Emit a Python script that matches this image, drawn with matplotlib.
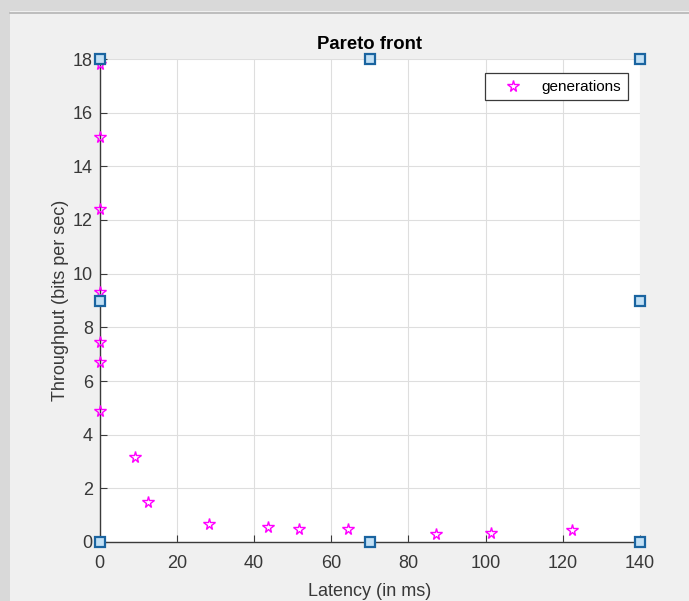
"""
pareto.py
---------
Pareto front of latency vs throughput (MATLAB-style figure).
"""

import matplotlib
matplotlib.use('Agg')
import matplotlib.pyplot as plt
from matplotlib.patches import Rectangle
from matplotlib.lines import Line2D

# Generations (pentagram markers)
gen_latency = [0, 0, 0, 0, 0, 0, 0, 9.2, 12.6, 28.2, 43.6, 51.7, 64.4, 87.2, 101.5, 122.5]
gen_throughput = [17.8, 15.1, 12.4, 9.3, 7.45, 6.7, 4.9, 3.15, 1.5, 0.68, 0.57,
                  0.5, 0.47, 0.3, 0.34, 0.45]

# Corner / bound markers (squares)
bound_latency = [0, 0, 0, 70, 70, 140, 140, 140]
bound_throughput = [0, 9, 18, 0, 18, 0, 9, 18]

xticks = list(range(0, 141, 20))
yticks = list(range(0, 19, 2))

plt.rcParams['font.family'] = ['Liberation Sans', 'DejaVu Sans']

fig = plt.figure(figsize=(6.89, 6.01), dpi=100)
fig.patch.set_facecolor('#f0f0f0')

# window frame strips (screenshot border)
fig.add_artist(Rectangle((0, 1 - 11 / 601), 1, 11 / 601, transform=fig.transFigure,
                         facecolor='#d9d9d9', edgecolor='none', zorder=0))
fig.add_artist(Rectangle((0, 0), 10 / 689, 1, transform=fig.transFigure,
                         facecolor='#d9d9d9', edgecolor='none', zorder=0))
fig.add_artist(Line2D([10 / 689, 1], [1 - 12.5 / 601] * 2, transform=fig.transFigure,
                      color='#b4b4b4', lw=1.2))

ax = fig.add_axes([99.8 / 689, 59 / 601, 540 / 689, 483 / 601])
ax.set_facecolor('white')

ax.plot(gen_latency, gen_throughput, linestyle='none', marker='*', markersize=8.5,
        markerfacecolor='none', markeredgecolor='#ff00ff', markeredgewidth=1.0,
        label='generations', clip_on=False, zorder=3)
ax.plot(bound_latency, bound_throughput, linestyle='none', marker='s', markersize=6.8,
        markerfacecolor='#c2e0f5', markeredgecolor='#1a64a0', markeredgewidth=1.6,
        clip_on=False, zorder=4)

ax.set_xlim(0, 140)
ax.set_ylim(0, 18)
ax.set_xticks(xticks)
ax.set_yticks(yticks)
ax.grid(True, color='#dedede', linewidth=0.8)
ax.set_axisbelow(True)

for side in ('top', 'right'):
    ax.spines[side].set_visible(False)
for side in ('left', 'bottom'):
    ax.spines[side].set_color('#3a3a3a')
    ax.spines[side].set_linewidth(1.0)

ax.tick_params(direction='in', length=5, width=0.8, colors='#3a3a3a',
               labelsize=13, labelcolor='#383838')
ax.tick_params(axis='y', pad=5)
ax.tick_params(axis='x', pad=9)

ax.set_title('Pareto front', fontsize=13.3, fontweight='bold', color='black', pad=7)
ax.set_xlabel('Latency (in ms)', fontsize=13, color='#383838', labelpad=8)
ax.set_ylabel('Throughput (bits per sec)', fontsize=13, color='#383838', labelpad=3)

leg = ax.legend(loc='upper right', bbox_to_anchor=(0.9775, 0.97), fontsize=11,
                frameon=True, fancybox=False, framealpha=1, edgecolor='#3a3a3a',
                handlelength=2.9, handletextpad=0.4, borderpad=0.42,
                borderaxespad=0)
leg.get_frame().set_linewidth(0.9)

fig.savefig('out.png', dpi=100, facecolor=fig.get_facecolor())
